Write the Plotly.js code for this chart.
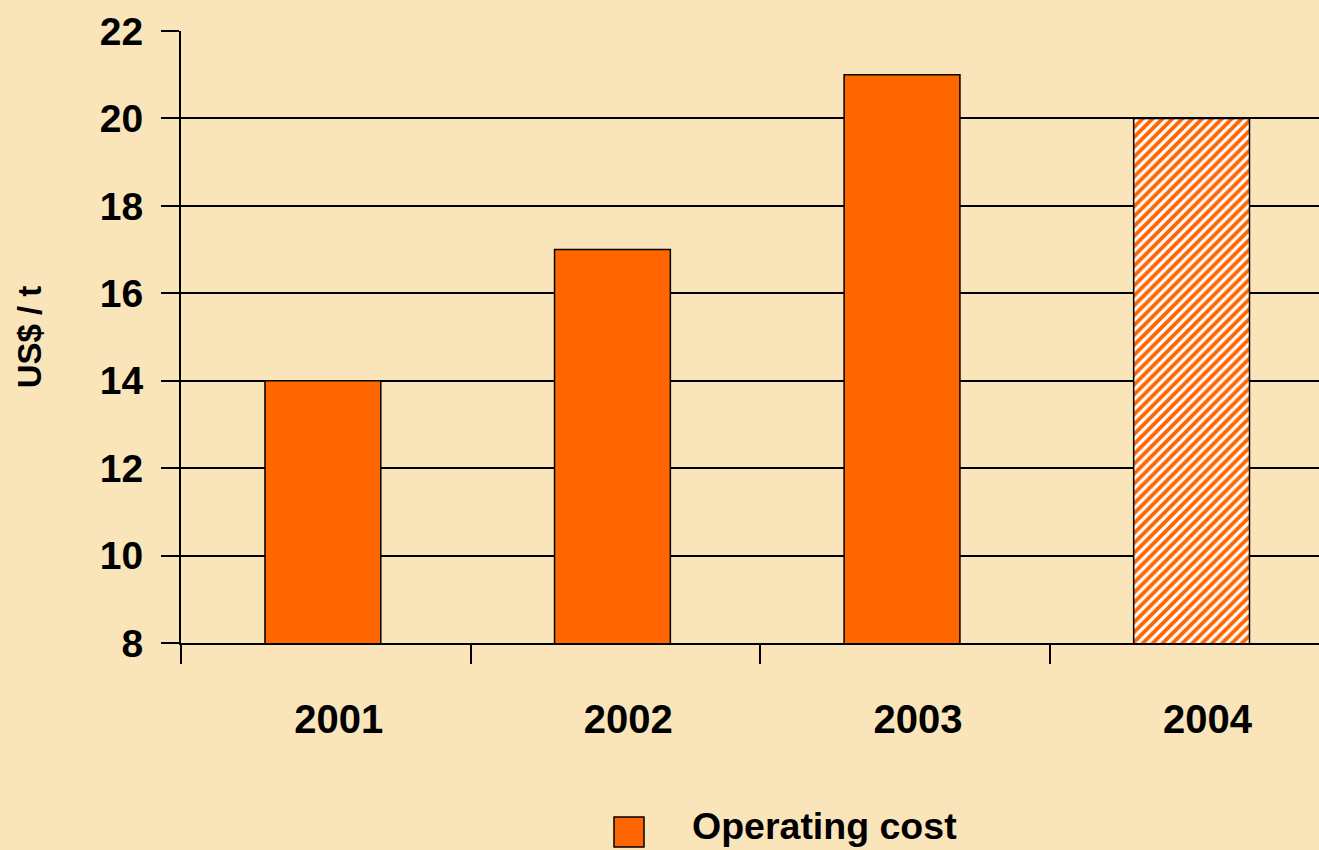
<!DOCTYPE html>
<html>
<head>
<meta charset="utf-8">
<script src="https://cdn.plot.ly/plotly-3.0.1.min.js"></script>
<style>html,body{margin:0;padding:0;overflow:hidden;background:#F9E5B9;}</style>
</head>
<body>
<div id="chart" style="width:1319px;height:850px;"></div>
<script>
const years = ["2001", "2002", "2003", "2004"];
const operatingCost = [14, 17, 21, 20];
const patternShapes = ["", "", "", "/"];
const seriesName = "Operating cost";
const yTicks = [8, 10, 12, 14, 16, 18, 20, 22];

const orange = "#FF6600";
const bg = "#F9E5B9";
const fontFamily = "Liberation Sans, Arial, sans-serif";

const trace = {
  type: "bar",
  x: years,
  y: operatingCost,
  name: seriesName,
  width: 0.4,
  offset: -0.21,
  showlegend: false,
  marker: {
    color: orange,
    line: {color: "#000000", width: 1.5},
    pattern: {shape: patternShapes, fgcolor: orange, bgcolor: "#FFFFFF", size: 7, solidity: 0.55, fillmode: "replace"}
  },
  hoverinfo: "x+y"
};

const plotLeft = 181;
const plotW = 1319 - plotLeft;
const plotTop = 31;
const plotBottom = 643;
const plotH = plotBottom - plotTop;
const px = v => (v - plotLeft) / plotW;
const py = v => (plotBottom - v) / plotH;

const layout = {
  width: 1319,
  height: 850,
  margin: {l: plotLeft, r: 0, t: plotTop, b: 850 - plotBottom},
  paper_bgcolor: bg,
  plot_bgcolor: bg,
  font: {family: fontFamily, size: 38, color: "#000000", weight: "bold"},
  showlegend: false,
  xaxis: {
    type: "category",
    range: [-0.5, 3.43],
    showgrid: false,
    showline: true,
    linecolor: "#000000",
    linewidth: 2,
    ticks: "outside",
    tickson: "boundaries",
    ticklen: 19,
    tickwidth: 2,
    tickcolor: "#000000",
    ticklabelstandoff: 40,
    ticklabelshift: 13,
    tickfont: {family: fontFamily, size: 40, weight: "bold"},
    fixedrange: true
  },
  yaxis: {
    range: [8, 22],
    tickvals: yTicks,
    showgrid: true,
    gridcolor: "#000000",
    gridwidth: 2,
    showline: true,
    linecolor: "#000000",
    linewidth: 2,
    ticks: "outside",
    ticklen: 18,
    tickwidth: 1.5,
    tickcolor: "#000000",
    ticklabelstandoff: 10,
    zeroline: false,
    automargin: false,
    tickfont: {family: fontFamily, size: 39, weight: "bold"},
    title: {text: "US$ / t", font: {family: fontFamily, size: 33, weight: "bold"}, standoff: 48},
    fixedrange: true
  },
  shapes: [{
    type: "rect", xref: "paper", yref: "paper",
    x0: px(614), x1: px(644), y0: py(817), y1: py(847),
    fillcolor: orange, line: {color: "#000000", width: 1.5}
  }],
  annotations: [{
    xref: "paper", yref: "paper", x: px(690), y: py(849),
    xanchor: "left", yanchor: "bottom", showarrow: false,
    text: seriesName,
    font: {family: fontFamily, size: 37.5, weight: "bold", color: "#000000"}
  }]
};

Plotly.newPlot("chart", [trace], layout, {displayModeBar: false});
</script>
</body>
</html>
